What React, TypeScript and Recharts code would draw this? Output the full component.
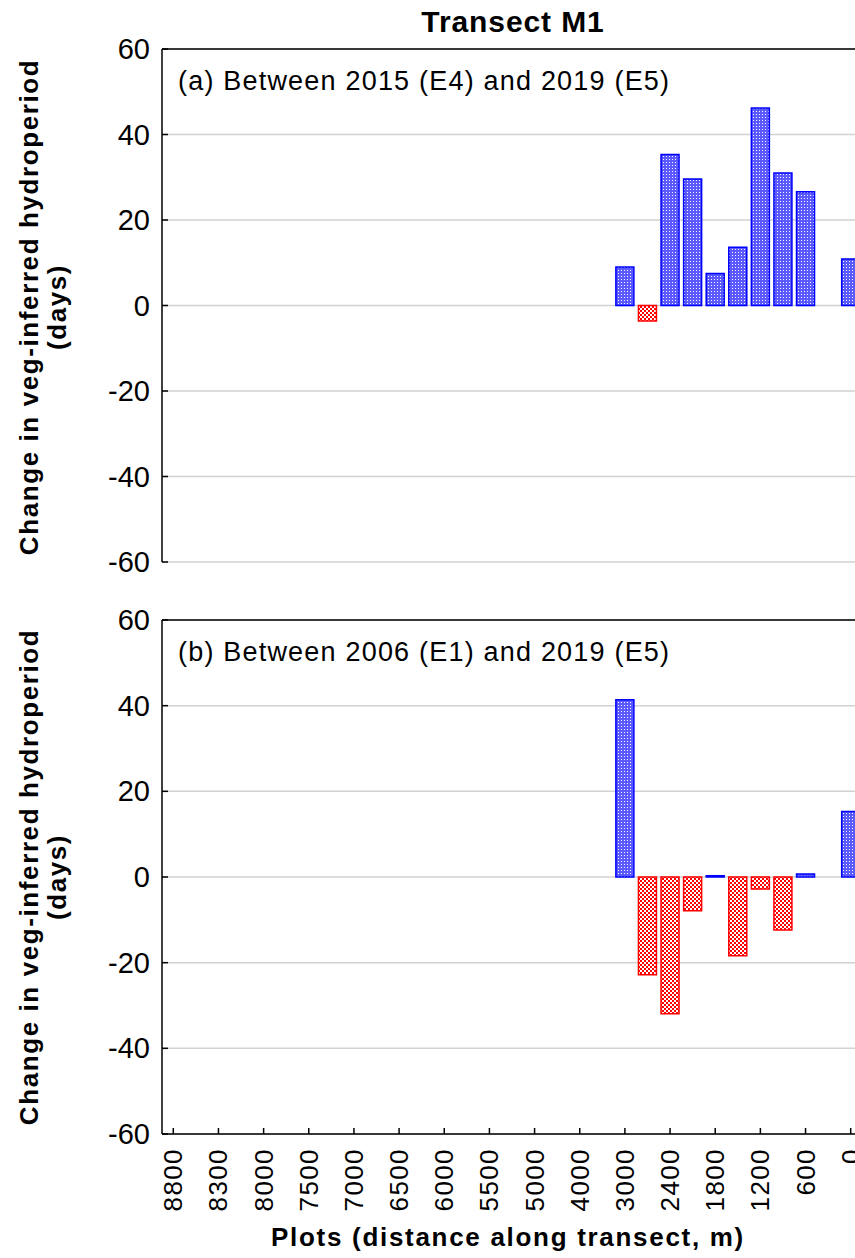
import { BarChart, Bar, Cell, XAxis, YAxis, CartesianGrid, ReferenceLine } from 'recharts';

// plot positions along transect M1 (m); only every other one gets a label
const plots = [
  '8800', '8600', '8300', '8100', '8000', '7800', '7500', '7300', '7000', '6800',
  '6500', '6300', '6000', '5800', '5500', '5300', '5000', '4500', '4000', '3500',
  '3000', '2700', '2400', '2100', '1800', '1500', '1200', '900', '600', '300', '0',
];

// (a) change between 2015 (E4) and 2019 (E5), days
const changeE4E5 = [
  null, null, null, null, null, null, null, null, null, null,
  null, null, null, null, null, null, null, null, null, null,
  9, -3.6, 35.3, 29.6, 7.5, 13.6, 46.2, 31, 26.6, null, 10.9,
];

// (b) change between 2006 (E1) and 2019 (E5), days
const changeE1E5 = [
  null, null, null, null, null, null, null, null, null, null,
  null, null, null, null, null, null, null, null, null, null,
  41.4, -22.8, -31.9, -7.9, 0.3, -18.4, -2.8, -12.4, 0.7, null, 15.3,
];

const yTicks = [-60, -40, -20, 0, 20, 40, 60];

const FONT = '"Liberation Sans", Arial, sans-serif';

const dataA = plots.map((p, i) => ({ plot: p, value: changeE4E5[i] }));
const dataB = plots.map((p, i) => ({ plot: p, value: changeE1E5[i] }));

function LeftTick({ x, y, payload }: any) {
  return (
    <g>
      <line x1={x} x2={x + 6} y1={y} y2={y} stroke="#000" strokeWidth={1.5} />
      <text x={x - 12} y={y} textAnchor="end" dominantBaseline="central"
        fontFamily={FONT} fontSize={29} fill="#000">
        {payload.value}
      </text>
    </g>
  );
}

function RightTick({ x, y }: any) {
  return <line x1={x} x2={x - 6} y1={y} y2={y} stroke="#000" strokeWidth={1.5} />;
}

function BottomTick({ x, y, payload, showLabel }: any) {
  return (
    <g>
      <line x1={x} x2={x} y1={y} y2={y - 6} stroke="#000" strokeWidth={1.5} />
      {showLabel && (
        <text x={x} y={y + 14} transform={`rotate(-90 ${x} ${y + 14})`}
          textAnchor="end" dominantBaseline="central"
          fontFamily={FONT} fontSize={26} letterSpacing={1.4} fill="#000">
          {payload.value}
        </text>
      )}
    </g>
  );
}

function Panel({ data, top, height, marginTop, marginBottom, xHeight, showLabels }: any) {
  return (
    <div style={{ position: 'absolute', left: 8, top, width: 858, height }}>
      <BarChart width={858} height={height} data={data}
        margin={{ top: marginTop, right: 0, bottom: marginBottom, left: 0 }}
        barCategoryGap="10%">
        <CartesianGrid vertical={false} stroke="#d2d2d2" strokeWidth={1.5} />
        <XAxis dataKey="plot" interval={1} height={xHeight}
          tickSize={0} tickMargin={0} tickLine={false}
          axisLine={{ stroke: '#000', strokeWidth: 1.5 }}
          tick={<BottomTick showLabel={showLabels} />} />
        <YAxis type="number" domain={[-60, 60]} ticks={yTicks} width={154}
          tickSize={0} tickMargin={0} tickLine={false} interval={0}
          axisLine={{ stroke: '#000', strokeWidth: 1.5 }}
          tick={<LeftTick />} />
        <YAxis yAxisId="r" orientation="right" type="number" domain={[-60, 60]}
          ticks={yTicks} width={4} tickSize={0} tickMargin={0} tickLine={false}
          interval={0} axisLine={{ stroke: '#000', strokeWidth: 1.5 }}
          tick={<RightTick />} />
        <ReferenceLine y={60} stroke="#000" strokeWidth={1.5} />
        <Bar dataKey="value" isAnimationActive={false}>
          {data.map((d: any, i: number) => (
            <Cell key={i}
              fill={d.value != null && d.value < 0 ? 'url(#redCheck)' : 'url(#blueDots)'}
              stroke={d.value != null && d.value < 0 ? '#ff0000' : '#0000ff'}
              strokeWidth={1.5} />
          ))}
        </Bar>
      </BarChart>
    </div>
  );
}

export default function App() {
  return (
    <div style={{ position: 'relative', width: 855, height: 1258, overflow: 'hidden', background: '#fff' }}>
      <style>{'html, body { margin: 0; padding: 0; overflow: hidden; }'}</style>
      <svg width={0} height={0} style={{ position: 'absolute' }}>
        <defs>
          <pattern id="blueDots" patternUnits="userSpaceOnUse" width={3} height={3}>
            <rect width={3} height={3} fill="#5a5aff" />
            <rect x={1} y={1} width={1} height={1} fill="#ffffff" />
          </pattern>
          <pattern id="redCheck" patternUnits="userSpaceOnUse" width={4} height={4}>
            <rect width={4} height={4} fill="#ff0000" />
            <rect width={2} height={2} fill="#ffffff" />
            <rect x={2} y={2} width={2} height={2} fill="#ffffff" />
          </pattern>
        </defs>
      </svg>

      <Panel data={dataA} top={8} height={570} marginTop={41} marginBottom={16} xHeight={0} showLabels={false} />
      <Panel data={dataB} top={578} height={656} marginTop={42} marginBottom={0} xHeight={100} showLabels={true} />

      <svg width={855} height={1258} style={{ position: 'absolute', left: 0, top: 0, pointerEvents: 'none' }}>
        <text x={513} y={32} textAnchor="middle"
          fontFamily={FONT} fontSize={30} fontWeight="bold" letterSpacing={0.9}>Transect M1</text>
        <text x={178} y={81} dominantBaseline="central" fontFamily={FONT} fontSize={27} letterSpacing={1.2}>
          (a) Between 2015 (E4) and 2019 (E5)
        </text>
        <text x={178} y={652} dominantBaseline="central" fontFamily={FONT} fontSize={27} letterSpacing={1.2}>
          (b) Between 2006 (E1) and 2019 (E5)
        </text>
        {[307, 877].map((cy) => (
          <g key={cy} fontFamily={FONT} fontSize={26} fontWeight="bold" letterSpacing={1.6}>
            <text x={29} y={cy} transform={`rotate(-90 29 ${cy})`} textAnchor="middle" dominantBaseline="central">
              Change in veg-inferred hydroperiod
            </text>
            <text x={57} y={cy} transform={`rotate(-90 57 ${cy})`} textAnchor="middle" dominantBaseline="central">
              (days)
            </text>
          </g>
        ))}
        <text x={508} y={1237} textAnchor="middle" dominantBaseline="central"
          fontFamily={FONT} fontSize={26} fontWeight="bold" letterSpacing={1.7}>
          Plots (distance along transect, m)
        </text>
      </svg>
    </div>
  );
}
